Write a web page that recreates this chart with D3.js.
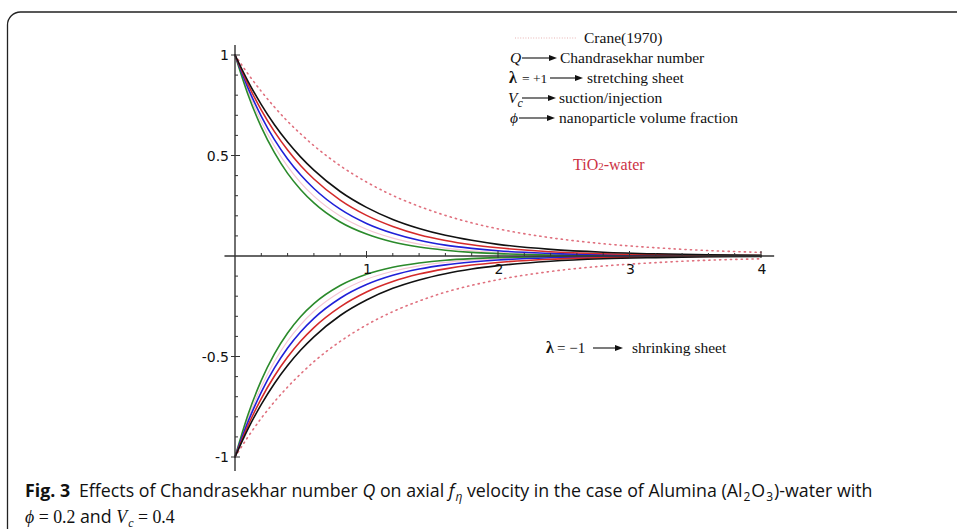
<!DOCTYPE html>
<html>
<head>
<meta charset="utf-8">
<script src="https://cdn.jsdelivr.net/npm/d3@7"></script>
<style>
body { margin: 0; background: #fff; }
</style>
</head>
<body>
<div id="chart"></div>
<script>
// eta grid and velocity profiles
const eta = [0, 0.1, 0.2, 0.3, 0.4, 0.5, 0.6, 0.8, 1.0, 1.2, 1.4, 1.6, 1.8, 2.0, 2.4, 2.8, 3.2, 3.6, 4.0];

// stretching sheet (lambda = +1)
const craneUp = [1, 0.905, 0.819, 0.741, 0.670, 0.607, 0.549, 0.449, 0.368, 0.301, 0.247, 0.202, 0.165, 0.135, 0.091, 0.061, 0.041, 0.027, 0.018];
const blackUp = [1, 0.868, 0.753, 0.653, 0.567, 0.492, 0.427, 0.321, 0.242, 0.182, 0.137, 0.103, 0.078, 0.058, 0.033, 0.019, 0.011, 0.006, 0.003];
const redUp   = [1, 0.852, 0.726, 0.619, 0.527, 0.449, 0.383, 0.278, 0.202, 0.147, 0.106, 0.077, 0.056, 0.041, 0.021, 0.011, 0.006, 0.003, 0.002];
const blueUp  = [1, 0.834, 0.695, 0.579, 0.483, 0.403, 0.336, 0.233, 0.162, 0.113, 0.078, 0.054, 0.038, 0.026, 0.013, 0.006, 0.003, 0.001, 0.001];
const pinkUp  = [1, 0.817, 0.668, 0.546, 0.446, 0.364, 0.298, 0.199, 0.133, 0.089, 0.059, 0.039, 0.026, 0.018, 0.008, 0.004, 0.002, 0.001, 0];
const greenUp = [1, 0.801, 0.641, 0.514, 0.411, 0.330, 0.264, 0.169, 0.109, 0.070, 0.045, 0.029, 0.018, 0.012, 0.005, 0.002, 0.001, 0, 0];

// shrinking sheet (lambda = -1)
const craneDn = [-1, -0.899, -0.807, -0.725, -0.652, -0.586, -0.526, -0.425, -0.343, -0.277, -0.224, -0.180, -0.146, -0.118, -0.077, -0.050, -0.033, -0.021, -0.014];
const blackDn = [-1, -0.859, -0.738, -0.634, -0.545, -0.468, -0.402, -0.296, -0.219, -0.161, -0.119, -0.088, -0.065, -0.048, -0.026, -0.014, -0.008, -0.004, -0.002];
const redDn   = [-1, -0.842, -0.709, -0.597, -0.503, -0.423, -0.356, -0.253, -0.179, -0.127, -0.090, -0.064, -0.045, -0.032, -0.016, -0.008, -0.004, -0.002, -0.001];
const blueDn  = [-1, -0.823, -0.677, -0.557, -0.458, -0.377, -0.310, -0.210, -0.142, -0.096, -0.065, -0.044, -0.030, -0.020, -0.009, -0.004, -0.002, -0.001, 0];
const pinkDn  = [-1, -0.807, -0.651, -0.525, -0.423, -0.341, -0.275, -0.179, -0.116, -0.076, -0.049, -0.032, -0.021, -0.014, -0.006, -0.002, -0.001, 0, 0];
const greenDn = [-1, -0.787, -0.619, -0.487, -0.383, -0.301, -0.237, -0.147, -0.091, -0.056, -0.035, -0.021, -0.013, -0.008, -0.003, -0.001, 0, 0, 0];

const xTicks = [1, 2, 3, 4];
const yTicks = [1, 0.5, -0.5, -1];

width = 957
height = 529

x = d3.scaleLinear().domain([0, 4]).range([235, 761]);
y = d3.scaleLinear().domain([-1, 1]).range([457, 55]);

svg = d3.select("#chart").append("svg")
    .attr("width", width)
    .attr("height", height)
    .style("font-family", "'DejaVu Sans', sans-serif");

// frame of the figure box
svg.append("path")
    .attr("d", "M7.5,529 V25 A13,13 0 0 1 20.5,12 H957")
    .attr("fill", "none")
    .attr("stroke", "#222")
    .attr("stroke-width", 1.3);

// curves
series = [
    {v: craneUp, c: "#e0707e", w: 1.6, dash: "1.2,4.2"},
    {v: craneDn, c: "#e0707e", w: 1.6, dash: "1.2,4.2"},
    {v: pinkUp, c: "#f5c6d4", w: 1.2},
    {v: pinkDn, c: "#f5c6d4", w: 1.2},
    {v: greenUp, c: "#2b8a2b", w: 1.6},
    {v: greenDn, c: "#2b8a2b", w: 1.6},
    {v: blueUp, c: "#2020d8", w: 1.6},
    {v: blueDn, c: "#2020d8", w: 1.6},
    {v: redUp, c: "#d42a2a", w: 1.6},
    {v: redDn, c: "#d42a2a", w: 1.6},
    {v: blackUp, c: "#111", w: 1.6},
    {v: blackDn, c: "#111", w: 1.6}
];

line = d3.line()
    .x((d, i) => x(eta[i]))
    .y(d => y(d))
    .curve(d3.curveMonotoneX);

svg.append("g")
    .selectAll("path")
    .data(series)
    .join("path")
    .attr("d", d => line(d.v))
    .attr("fill", "none")
    .attr("stroke", d => d.c)
    .attr("stroke-width", d => d.w)
    .attr("stroke-linecap", "round")
    .attr("stroke-dasharray", d => d.dash || null);

// axes (sage style, crossing at origin)
ax = svg.append("g").attr("stroke", "#333").attr("fill", "none");
ax.append("line")
    .attr("x1", x(-0.08)).attr("x2", x(4.1))
    .attr("y1", y(0)).attr("y2", y(0))
    .attr("stroke-width", 1.4);
ax.append("line")
    .attr("x1", x(0)).attr("x2", x(0))
    .attr("y1", y(1.05)).attr("y2", y(-1.07))
    .attr("stroke-width", 1.4);

// minor/major ticks on x
ax.selectAll(".xt")
    .data(d3.range(1, 21).map(i => i / 5))
    .join("line")
    .attr("x1", d => x(d)).attr("x2", d => x(d))
    .attr("y1", d => y(0) - (Number.isInteger(d) ? 5 : 3))
    .attr("y2", d => y(0) + (Number.isInteger(d) ? 2 : 0))
    .attr("stroke-width", 1);

// minor/major ticks on y
ax.selectAll(".yt")
    .data(d3.range(-10, 11).filter(i => i != 0).map(i => i / 10))
    .join("line")
    .attr("x1", d => x(0) - (Math.abs(d * 10) % 5 == 0 ? 4 : 0))
    .attr("x2", d => x(0) + (Math.abs(d * 10) % 5 == 0 ? 5 : 3))
    .attr("y1", d => y(d)).attr("y2", d => y(d))
    .attr("stroke-width", 1);

svg.append("g")
    .selectAll("text")
    .data(xTicks)
    .join("text")
    .attr("x", d => x(d) + 1)
    .attr("y", y(0) + 18)
    .attr("text-anchor", "middle")
    .attr("font-size", 14)
    .attr("fill", "#111")
    .text(d => d);

svg.append("g")
    .selectAll("text")
    .data(yTicks)
    .join("text")
    .attr("x", x(0) - 6)
    .attr("y", d => y(d) + 5)
    .attr("text-anchor", "end")
    .attr("font-size", 14)
    .attr("fill", "#111")
    .text(d => d);

// legend / annotations
serif = "'Liberation Serif', 'Times New Roman', serif";
function arrow(x1, x2, yy) {
    svg.append("line")
        .attr("x1", x1).attr("x2", x2 - 6)
        .attr("y1", yy).attr("y2", yy)
        .attr("stroke", "#111").attr("stroke-width", 1.1);
    svg.append("path")
        .attr("d", `M${x2},${yy} L${x2 - 8},${yy - 3} L${x2 - 8},${yy + 3} Z`)
        .attr("fill", "#111");
}
function txt(xx, yy, s, opts = {}) {
    return svg.append("text")
        .attr("x", xx).attr("y", yy)
        .attr("font-family", serif)
        .attr("font-size", opts.size || 15.5)
        .attr("font-style", opts.italic ? "italic" : null)
        .attr("font-weight", opts.bold ? "bold" : null)
        .attr("fill", opts.color || "#111")
        .text(s);
}

svg.append("line")
    .attr("x1", 515).attr("x2", 577)
    .attr("y1", 38).attr("y2", 38)
    .attr("stroke", "#e8b4b4").attr("stroke-width", 1.2)
    .attr("stroke-dasharray", "1,1.6");
txt(584, 43, "Crane(1970)");

txt(510, 63, "Q", {italic: true});
arrow(522, 557, 58);
txt(560, 63, "Chandrasekhar number");

txt(509, 83, "λ", {bold: true, size: 16});
txt(522, 83, "= +1", {size: 13.5});
arrow(550, 583, 78);
txt(587, 83, "stretching sheet");

vc = txt(508, 103, "V", {italic: true});
vc.append("tspan").attr("dy", 4).attr("font-size", 12).text("c");
arrow(522, 556, 98);
txt(559, 103, "suction/injection");

txt(510, 123, "ϕ", {italic: true});
arrow(519, 555, 118);
txt(559, 123, "nanoparticle volume fraction");

tio = txt(573, 170, "TiO", {color: "#cc3344", size: 16});
tio.append("tspan").attr("font-size", 11).text("2");
tio.append("tspan").text("-water");

txt(546, 353, "λ", {bold: true, size: 16});
txt(557, 353, "= −1", {size: 15});
arrow(593, 623, 348);
txt(632, 353, "shrinking sheet");

// caption
sans = "'Open Sans', sans-serif";
cap = svg.append("text")
    .attr("x", 25).attr("y", 497)
    .attr("font-family", sans)
    .attr("font-size", 17.8)
    .attr("fill", "#111");
cap.append("tspan").attr("font-weight", "bold").text("Fig. 3");
cap.append("tspan").text("\u2002Effects of Chandrasekhar number ");
cap.append("tspan").attr("font-style", "italic").text("Q");
cap.append("tspan").text(" on axial ");
cap.append("tspan").attr("font-style", "italic").text("f");
cap.append("tspan").attr("font-style", "italic").attr("font-size", 12).attr("dx", 1).attr("dy", 4).text("η");
cap.append("tspan").attr("dy", -4).text(" velocity in the case of Alumina (Al");
cap.append("tspan").attr("font-size", 12).attr("dx", 1).attr("dy", 4).text("2");
cap.append("tspan").attr("dy", -4).attr("dx", 1).text("O");
cap.append("tspan").attr("font-size", 12).attr("dx", 1).attr("dy", 4).text("3");
cap.append("tspan").attr("dy", -4).attr("dx", 1).text(")-water with");

cap2 = svg.append("text")
    .attr("x", 25).attr("y", 523)
    .attr("font-family", sans)
    .attr("font-size", 17.8)
    .attr("fill", "#111");
cap2.append("tspan").attr("font-family", serif).attr("font-style", "italic").text("ϕ");
cap2.append("tspan").attr("font-family", serif).text(" = 0.2");
cap2.append("tspan").text(" and ");
cap2.append("tspan").attr("font-family", serif).attr("font-style", "italic").text("V");
cap2.append("tspan").attr("font-family", serif).attr("font-style", "italic").attr("font-size", 12).attr("dx", 1).attr("dy", 4).text("c");
cap2.append("tspan").attr("font-family", serif).attr("dy", -4).text(" = 0.4");
</script>
</body>
</html>
